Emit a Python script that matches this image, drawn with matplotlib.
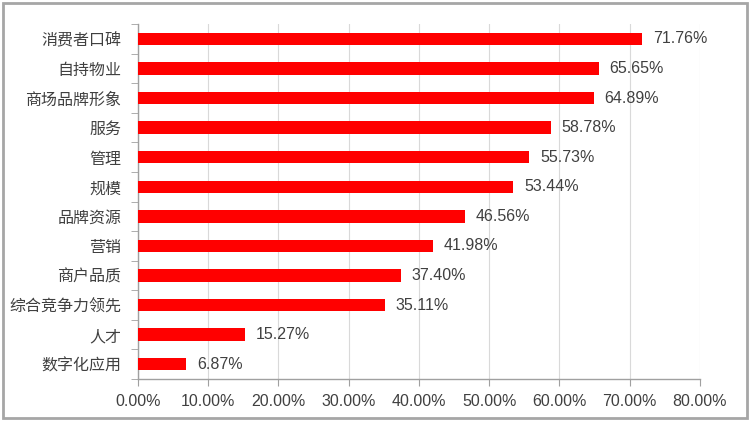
import matplotlib.pyplot as plt
from matplotlib.ticker import FixedLocator, PercentFormatter
from matplotlib.patches import Rectangle

plt.rcParams['font.family'] = ['Liberation Sans', 'Noto Sans CJK SC', 'DejaVu Sans']

categories = ["消费者口碑", "自持物业", "商场品牌形象", "服务", "管理", "规模",
              "品牌资源", "营销", "商户品质", "综合竞争力领先", "人才", "数字化应用"]
values = [71.76, 65.65, 64.89, 58.78, 55.73, 53.44, 46.56, 41.98, 37.40, 35.11, 15.27, 6.87]
x_ticks = [0, 10, 20, 30, 40, 50, 60, 70, 80]

text_color = "#404040"
axis_color = "#a0a0a0"

fig = plt.figure(figsize=(7.5, 4.21), dpi=100)
ax = fig.add_axes([0.184, 0.0998, 0.7493, 0.843])

pos = list(range(len(categories)))
ax.barh(pos, values, height=0.42, color="#ff0000", zorder=3)
for p, v in zip(pos, values):
    ax.text(v + 1.5, p, "{:.2f}%".format(v), va="center", ha="left",
            fontsize=11.5, color=text_color)

ax.set_xlim(0, 80)
ax.set_ylim(len(categories) - 0.5, -0.5)
ax.set_xticks(x_ticks)
ax.xaxis.set_major_formatter(PercentFormatter(decimals=2))
ax.set_yticks(pos)
ax.set_yticklabels(categories, family=['Noto Sans CJK SC', 'DejaVu Sans'])
ax.yaxis.set_minor_locator(FixedLocator([i - 0.5 for i in range(len(categories) + 1)]))
ax.tick_params(axis="y", which="major", length=0, pad=12, labelsize=11.5, labelcolor=text_color)
ax.tick_params(axis="y", which="minor", length=5, color=axis_color)
ax.tick_params(axis="x", length=5, color=axis_color, labelsize=11.5, labelcolor=text_color, pad=6)

ax.grid(axis="x", color="#d9d9d9", linewidth=0.8, zorder=0)
for s in ["top", "right"]:
    ax.spines[s].set_visible(False)
for s in ["left", "bottom"]:
    ax.spines[s].set_color(axis_color)
    ax.spines[s].set_linewidth(1)

fig.patches.append(Rectangle((0.004, 0.006), 0.992, 0.988, transform=fig.transFigure,
                             fill=False, edgecolor="#a6a6a6", linewidth=2))

fig.savefig("out.png", dpi=100)
